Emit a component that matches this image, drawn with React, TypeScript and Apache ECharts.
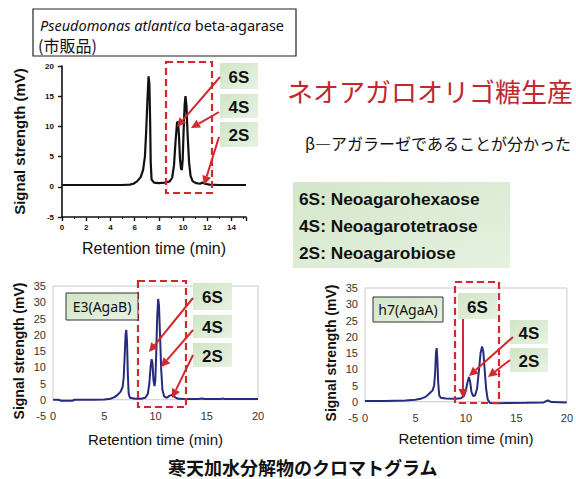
import React, { useEffect, useRef } from "react";
import * as echarts from "echarts";

// HPLC traces, [retention time (min), signal (mV)]
const commercialTrace: [number, number][] = [
  [0, 0.3], [1, 0.3], [2, 0.3], [3, 0.3], [4, 0.3], [5, 0.3], [5.6, 0.35], [5.9, 0.5],
  [6.2, 0.9], [6.5, 1.6], [6.7, 2.8], [6.85, 5], [6.95, 9], [7.05, 14], [7.15, 18.3],
  [7.22, 17], [7.28, 11], [7.33, 4], [7.4, 1.2], [7.6, 0.7], [8, 0.6], [8.5, 0.7],
  [8.9, 0.9], [9.1, 1.5], [9.25, 3.5], [9.38, 7.5], [9.5, 10.6], [9.58, 10.8], [9.66, 8.5],
  [9.75, 4.5], [9.83, 3], [9.9, 2.8], [9.97, 4.5], [10.05, 9.5], [10.13, 13.5], [10.2, 15],
  [10.28, 13.5], [10.38, 8.5], [10.5, 4], [10.62, 1.8], [10.8, 0.9], [11.1, 0.6], [11.4, 0.5],
  [11.6, 0.7], [11.8, 0.5], [12.2, 0.35], [13, 0.3], [14, 0.3], [15.2, 0.3],
];

const e3Trace: [number, number][] = [
  [0, 0], [0.5, 0], [0.8, -0.3], [1.9, -0.3], [2.1, 0], [3, 0], [4, 0], [5, 0.1], [5.6, 0.3],
  [6, 0.8], [6.3, 1.5], [6.6, 2.5], [6.8, 4], [6.9, 7], [7.0, 14], [7.08, 20], [7.15, 21.5],
  [7.22, 18], [7.3, 8], [7.38, 2], [7.5, 0.6], [8, 0.3], [8.6, 0.3], [9.0, 0.6], [9.25, 1.8],
  [9.4, 5], [9.52, 10], [9.62, 12.5], [9.7, 11.5], [9.8, 6], [9.9, 4.2], [9.98, 6],
  [10.07, 14], [10.16, 25], [10.26, 31], [10.34, 29], [10.44, 20], [10.56, 9], [10.68, 3],
  [10.85, 1], [11.1, 0.6], [11.35, 1.2], [11.6, 1.5], [11.85, 0.9], [12.2, 0.3], [13, 0.2],
  [14.2, 0.2], [14.5, 0.4], [14.8, 0.2], [16.3, 0.2], [16.55, 0.4], [16.8, 0.2], [20, 0.2],
];

const h7Trace: [number, number][] = [
  [0, 0.2], [1, 0.2], [2, 0.2], [3, 0.3], [4, 0.4], [5, 0.6], [5.5, 0.9], [6, 1.5],
  [6.4, 2.6], [6.7, 3.5], [6.85, 5], [6.95, 9], [7.03, 15], [7.1, 16.5], [7.17, 13],
  [7.25, 6], [7.35, 2], [7.5, 1.2], [8, 1.0], [9, 0.9], [9.5, 1.1], [9.8, 1.8], [10.0, 3.5],
  [10.15, 6], [10.3, 7.6], [10.42, 6], [10.55, 3], [10.7, 1.8], [10.9, 1.9], [11.1, 4],
  [11.3, 10], [11.45, 15], [11.6, 17], [11.72, 15.5], [11.85, 10], [12.0, 4], [12.15, 0.8],
  [12.35, -0.3], [12.8, -0.5], [14, -0.4], [16, -0.3], [17.7, -0.2], [18.1, 0.4],
  [18.5, -0.1], [20, -0.2],
];

// Axis ranges
const topTimeRange = [0, 15.2];
const topSignalRange = [-5, 20];
const lowerTimeRange = [0, 20];
const lowerSignalRange = [-5, 35];

// Labels
const productTags = ["6S", "4S", "2S"];
const productNames = ["6S: Neoagarohexaose", "4S: Neoagarotetraose", "2S: Neoagarobiose"];
const enzymeLabels = ["E3(AgaB)", "h7(AgaA)"];
const headline = "ネオアガロオリゴ糖生産";
const finding = "β―アガラーゼであることが分かった";
const footer = "寒天加水分解物のクロマトグラム";
const timeTitle = "Retention time (min)";
const signalTitle = "Signal strength (mV)";

const RED = "#d3282c";
const LATIN = "'Liberation Sans', Arial, sans-serif";
const CJK = "'Noto Sans CJK JP', sans-serif";

const greenFill = () =>
  new echarts.graphic.LinearGradient(0, 0, 1, 1, [
    { offset: 0, color: "#d0e5c6" },
    { offset: 1, color: "#e8f2e2" },
  ]);

function arrow(x1: number, y1: number, x2: number, y2: number) {
  const dx = x2 - x1;
  const dy = y2 - y1;
  const len = Math.hypot(dx, dy);
  const ux = dx / len;
  const uy = dy / len;
  const hl = 9;
  const hw = 4.5;
  const bx = x2 - ux * hl;
  const by = y2 - uy * hl;
  return [
    { type: "line", z: 110, shape: { x1, y1, x2: bx, y2: by }, style: { stroke: RED, lineWidth: 2 } },
    {
      type: "polygon",
      z: 110,
      shape: { points: [[x2, y2], [bx - uy * hw, by + ux * hw], [bx + uy * hw, by - ux * hw]] },
      style: { fill: RED },
    },
  ];
}

function tag(x: number, y: number, w: number, h: number, text: string) {
  return [
    { type: "rect", z: 105, shape: { x, y, width: w, height: h }, style: { fill: greenFill() } },
    {
      type: "text",
      z: 106,
      x: x + w / 2,
      y: y + h / 2 + 1,
      style: { text, align: "center", verticalAlign: "middle", font: `bold 17px ${LATIN}`, fill: "#111" },
    },
  ];
}

function dashedBox(x: number, y: number, w: number, h: number) {
  return {
    type: "rect",
    z: 104,
    shape: { x, y, width: w, height: h },
    style: { fill: "none", stroke: RED, lineWidth: 2.2, lineDash: [7, 4] },
  };
}

function enzymeBox(x: number, y: number, w: number, h: number, text: string) {
  return [
    {
      type: "rect",
      z: 105,
      shape: { x, y, width: w, height: h },
      style: { fill: greenFill(), stroke: "#333", lineWidth: 1 },
    },
    {
      type: "text",
      z: 106,
      x: x + w / 2,
      y: y + h / 2,
      style: { text, align: "center", verticalAlign: "middle", font: `14px 'Noto Sans', sans-serif`, fill: "#111" },
    },
  ];
}

export default function App() {
  const ref = useRef<HTMLDivElement>(null);

  useEffect(() => {
    if (!ref.current) return;
    const chart = echarts.init(ref.current, undefined, { renderer: "svg" });

    const lowerX = (gridIndex: number) => ({
      type: "value",
      gridIndex,
      min: lowerTimeRange[0],
      max: lowerTimeRange[1],
      interval: 5,
      axisLine: { show: false, onZero: false },
      axisTick: { show: false },
      splitLine: { show: false },
      axisLabel: { fontSize: 11, color: "#333", margin: -6, fontFamily: LATIN },
      name: timeTitle,
      nameLocation: "middle",
      nameGap: gridIndex === 1 ? 16 : 13,
      nameTextStyle: { fontSize: 15, color: "#111", fontFamily: LATIN },
    });
    const lowerY = (gridIndex: number) => ({
      type: "value",
      gridIndex,
      min: lowerSignalRange[0],
      max: lowerSignalRange[1],
      interval: 5,
      axisLine: { show: false },
      axisTick: { show: false },
      splitLine: { show: false },
      axisLabel: { fontSize: 11, color: "#333", margin: 7, fontFamily: LATIN },
      name: signalTitle,
      nameLocation: "middle",
      nameGap: 27,
      nameTextStyle: { fontSize: 14, fontWeight: "bold", color: "#111", fontFamily: LATIN },
    });
    const plotFrame = {
      silent: true,
      itemStyle: { color: "rgba(0,0,0,0)", borderColor: "#c9c9c9", borderWidth: 1 },
      data: [[{ coord: [lowerTimeRange[0], 0] }, { coord: [lowerTimeRange[1], lowerSignalRange[1]] }]],
    };

    const graphic: any[] = [
      // header box
      { type: "rect", shape: { x: 33, y: 9, width: 263, height: 47 }, style: { fill: "#fff", stroke: "#222", lineWidth: 1.2 } },
      {
        type: "text",
        x: 40,
        y: 25,
        style: {
          text: "{i|Pseudomonas atlantica} beta-agarase",
          verticalAlign: "middle",
          font: `14.5px 'Noto Sans', sans-serif`,
          fill: "#111",
          rich: { i: { fontStyle: "italic", fontSize: 14.5, fontFamily: "'Noto Sans', sans-serif" } },
        },
      },
      { type: "text", x: 38, y: 45, style: { text: "(市販品)", verticalAlign: "middle", font: `16px ${CJK}`, fill: "#111" } },
      // headline and finding
      { type: "text", x: 287, y: 90, style: { text: headline, verticalAlign: "middle", font: `26px ${CJK}`, fill: "#c1272d" } },
      { type: "text", x: 305, y: 143, style: { text: finding, verticalAlign: "middle", font: `16px ${CJK}`, fill: "#111" } },
      // product name legend
      {
        type: "rect",
        shape: { x: 293, y: 182, width: 217, height: 86 },
        style: {
          fill: new echarts.graphic.LinearGradient(0, 0, 1, 1, [
            { offset: 0, color: "#d3e7ca" },
            { offset: 1, color: "#e6f1e0" },
          ]),
        },
      },
      ...productNames.map((t, i) => ({
        type: "text",
        x: 299,
        y: 199 + i * 27,
        style: { text: t, verticalAlign: "middle", font: `bold 17.3px ${LATIN}`, fill: "#111" },
      })),
      // footer
      { type: "text", x: 168, y: 467, style: { text: footer, verticalAlign: "middle", font: `bold 18px ${CJK}`, fill: "#111" } },

      // top chromatogram annotations
      dashedBox(166, 62, 46, 131),
      ...tag(220, 63, 38, 26, productTags[0]),
      ...tag(220, 94, 38, 24, productTags[1]),
      ...tag(220, 122, 38, 25, productTags[2]),
      ...arrow(220, 77, 177, 127),
      ...arrow(219, 112, 191, 128),
      ...arrow(219, 137, 204, 185),

      // E3 annotations
      ...enzymeBox(66, 293, 72, 27, enzymeLabels[0]),
      dashedBox(138, 281, 48, 126),
      ...tag(193, 283, 39, 27, productTags[0]),
      ...tag(193, 315, 39, 23, productTags[1]),
      ...tag(193, 343, 39, 24, productTags[2]),
      ...arrow(193, 298, 149, 352),
      ...arrow(193, 330, 161, 367),
      ...arrow(193, 355, 172, 398),

      // h7 annotations
      ...enzymeBox(373, 297, 70, 25, enzymeLabels[1]),
      dashedBox(455, 282, 44, 121),
      ...tag(458, 293, 39, 26, productTags[0]),
      ...tag(510, 320, 38, 24, productTags[1]),
      ...tag(510, 348, 38, 24, productTags[2]),
      ...arrow(463, 319, 463, 398),
      ...arrow(513, 337, 469, 376),
      ...arrow(510, 360, 488, 377),
    ];

    chart.setOption({
      animation: false,
      backgroundColor: "#fff",
      grid: [
        { left: 62, top: 66, width: 184, height: 151 },
        { left: 53, top: 286, width: 205, height: 130 },
        { left: 365, top: 288, width: 205, height: 130 },
      ],
      xAxis: [
        {
          type: "value",
          gridIndex: 0,
          min: topTimeRange[0],
          max: topTimeRange[1],
          interval: 2,
          axisLine: { onZero: false, lineStyle: { color: "#111", width: 1.6 } },
          axisTick: { show: true, length: 4, lineStyle: { color: "#111", width: 1.4 } },
          minorTick: { show: true, splitNumber: 2, length: 2, lineStyle: { color: "#111" } },
          splitLine: { show: false },
          axisLabel: { fontSize: 8, fontWeight: "bold", color: "#111", margin: 6, showMaxLabel: false, fontFamily: LATIN },
          name: timeTitle,
          nameLocation: "middle",
          nameGap: 23,
          nameTextStyle: { fontSize: 16, color: "#111", fontFamily: LATIN },
        },
        lowerX(1),
        lowerX(2),
      ],
      yAxis: [
        {
          type: "value",
          gridIndex: 0,
          min: topSignalRange[0],
          max: topSignalRange[1],
          interval: 5,
          axisLine: { show: true, lineStyle: { color: "#111", width: 1.6 } },
          axisTick: { show: true, length: 4, lineStyle: { color: "#111", width: 1.4 } },
          splitLine: { show: false },
          axisLabel: { fontSize: 8, fontWeight: "bold", color: "#111", margin: 8, fontFamily: LATIN },
          name: signalTitle,
          nameLocation: "middle",
          nameGap: 35,
          nameTextStyle: { fontSize: 15, fontWeight: "bold", color: "#111", fontFamily: LATIN },
        },
        lowerY(1),
        lowerY(2),
      ],
      series: [
        {
          type: "line",
          xAxisIndex: 0,
          yAxisIndex: 0,
          data: commercialTrace,
          symbol: "none",
          lineStyle: { color: "#111", width: 2.2 },
        },
        {
          type: "line",
          xAxisIndex: 1,
          yAxisIndex: 1,
          data: e3Trace,
          symbol: "none",
          lineStyle: { color: "#272b7d", width: 2 },
          markArea: plotFrame,
        },
        {
          type: "line",
          xAxisIndex: 2,
          yAxisIndex: 2,
          data: h7Trace,
          symbol: "none",
          lineStyle: { color: "#272b7d", width: 2 },
          markArea: plotFrame,
        },
      ],
      graphic,
    });

    return () => chart.dispose();
  }, []);

  return (
    <div
      ref={ref}
      style={{ position: "absolute", left: 0, top: 0, width: 576, height: 479, background: "#fff" }}
    />
  );
}
